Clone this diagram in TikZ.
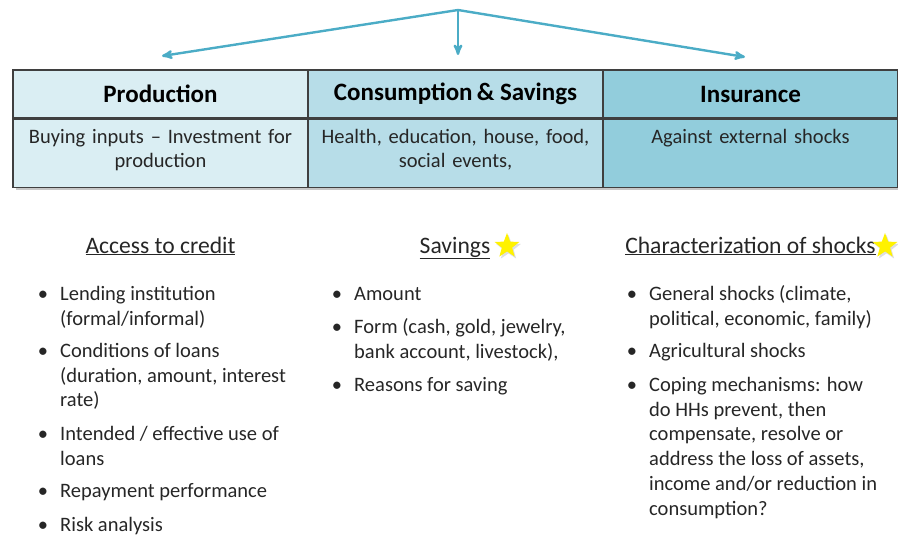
\documentclass[tikz,border=0pt]{standalone}
\usepackage{fontspec}
\setmainfont{Carlito}
\usetikzlibrary{arrows,positioning,shapes.geometric,shadows}

\definecolor{arrowblue}{HTML}{4BACC6}
\definecolor{cellA}{HTML}{DAEEF3}
\definecolor{cellB}{HTML}{B7DDE8}
\definecolor{cellC}{HTML}{92CDDC}
\definecolor{rule}{HTML}{3F3F3F}
\definecolor{txt}{HTML}{262626}

% bullet hung to the left, first line of fixed height
\newcommand{\bul}{\llap{\textbullet\hspace{12pt}}\rule{0pt}{15pt}}
\newcommand{\firstln}{\rule{0pt}{15pt}}

\begin{document}
\begin{tikzpicture}[x=1pt,y=-1pt,>=stealth',
        arrowline/.style={->,draw=arrowblue,line width=2.4pt},
        head/.style={draw=rule,line width=1.2pt,minimum width=295pt,minimum height=48pt,
            font=\fontsize{25}{28}\selectfont\bfseries,text=black},
        cell/.style={draw=rule,line width=1.2pt,minimum width=295pt,minimum height=68pt},
        celltext/.style={anchor=north,align=center,text width=290pt,inner sep=0pt,
            font=\fontsize{20.5}{24}\selectfont,text=txt},
        title/.style={anchor=base,font=\fontsize{23.6}{28}\selectfont,text=txt,inner sep=0pt},
        item/.style={anchor=north west,align=left,inner sep=0pt,
            font=\fontsize{20.5}{24.8}\selectfont,text=txt},
        marker/.style={star,star points=5,star point ratio=2.4,fill=yellow,draw=none,
            minimum size=26pt,inner sep=0pt,
            drop shadow={shadow xshift=1.5pt,shadow yshift=-2pt,opacity=0.25}}]

  \useasboundingbox (0,0) rectangle (898,535);

  % the three uses
  \fill[black!22] (16,73) rectangle (900,190);
  \node[head,fill=cellA] (Production) at (160.5,94) {Production};
  \node[head,fill=cellB] (Consumption) at (455.5,94) {Consumption\,\& Savings};
  \node[head,fill=cellC] (Insurance) at (750.5,94) {Insurance};
  \node[cell,fill=cellA,anchor=north] (Prod Cell) at (Production.south) {};
  \node[cell,fill=cellB,anchor=north] (Cons Cell) at (Consumption.south) {};
  \node[cell,fill=cellC,anchor=north] (Ins Cell) at (Insurance.south) {};
  \node[celltext] (Prod Text) at (160.5,128) {\firstln Buying inputs -- Investment for\\production};
  \node[celltext] (Cons Text) at (455.5,128) {\firstln Health, education, house, food,\\social events,};
  \node[celltext] (Ins Text) at (750.5,128) {\firstln Against external shocks};

  \coordinate (Top) at (458,10);
  \coordinate (Left End) at (162,56);
  \coordinate (Mid End) at (458,55);
  \coordinate (Right End) at (745,57);
  \draw[arrowline] (Top) -- (Left End);
  \draw[arrowline] (Top) -- (Mid End);
  \draw[arrowline] (Top) -- (Right End);

  % what is asked about each
  \node[title] (Credit) at (160.5,253) {\underline{Access to credit}};
  \node[title] (Savings) at (455,253) {\underline{Savings}};
  \node[title] (Shocks) at (750.5,253) {\underline{Characterization of shocks}};
  \node[marker] (Star Savings) at (507,246) {};
  \node[marker] (Star Shocks) at (885,246) {};

  \node[item] (Lending) at (60,285) {\bul Lending institution\\(formal/informal)};
  \node[item] (Conditions) at (60,342) {\bul Conditions of loans\\(duration, amount, interest\\rate)};
  \node[item] (Use) at (60,425) {\bul Intended / effective use of\\loans};
  \node[item] (Repayment) at (60,482) {\bul Repayment performance};
  \node[item] (Risk) at (60,516) {\bul Risk analysis};

  \node[item] (Amount) at (354,285) {\bul Amount};
  \node[item] (Form) at (354,318) {\bul Form (cash, gold, jewelry,\\bank account, livestock),};
  \node[item] (Reasons) at (354,376) {\bul Reasons for saving};

  \node[item] (General) at (649,285) {\bul General shocks (climate,\\political, economic, family)};
  \node[item] (Agri) at (649,342) {\bul Agricultural shocks};
  \node[item] (Coping) at (649,376) {\bul Coping mechanisms: how\\do HHs prevent, then\\compensate, resolve or\\address the loss of assets,\\income and/or reduction in\\consumption?};
\end{tikzpicture}
\end{document}
